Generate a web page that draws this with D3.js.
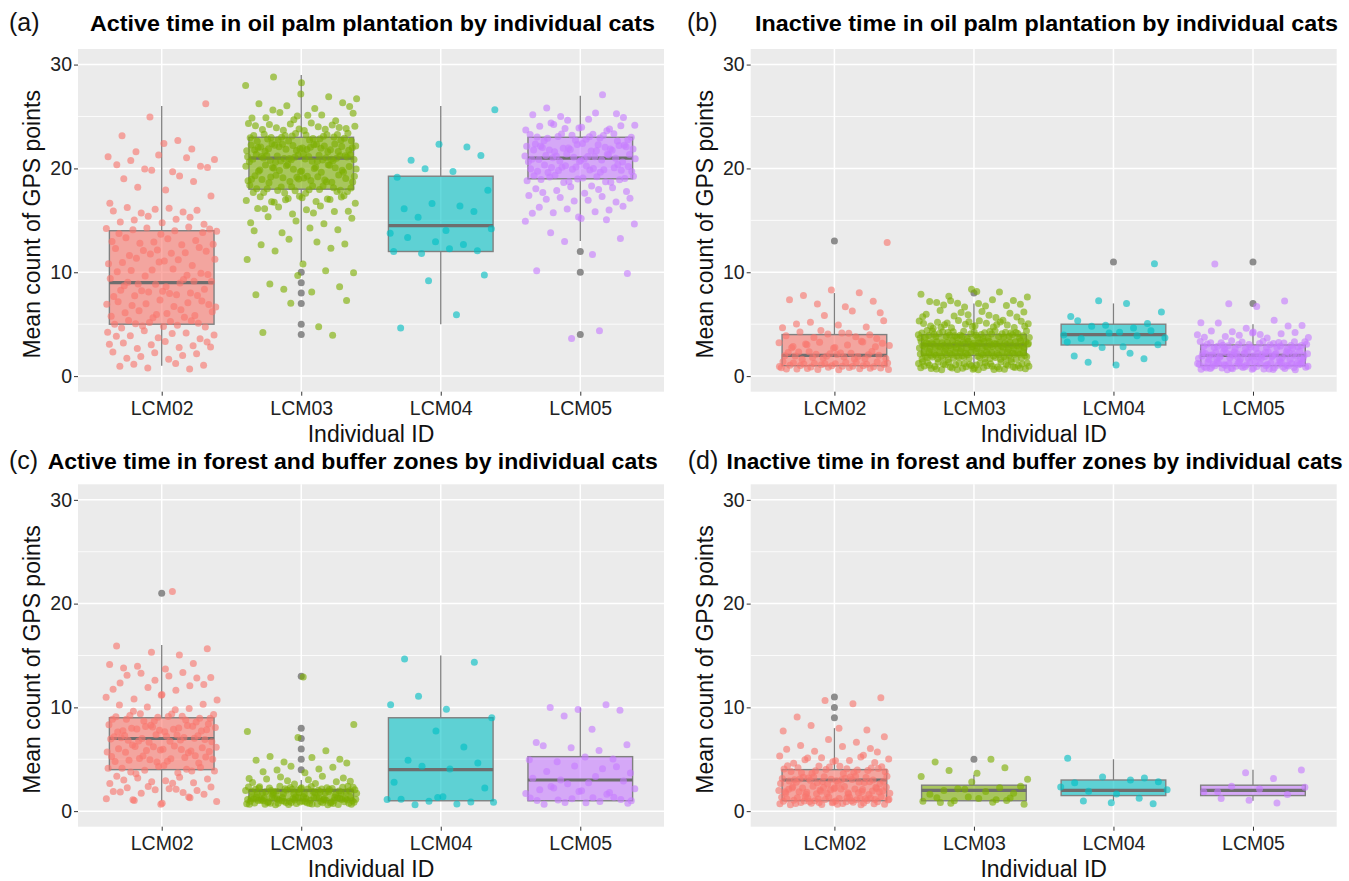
<!DOCTYPE html>
<html><head><meta charset="utf-8">
<script src="https://cdn.jsdelivr.net/npm/d3@7"></script>
<style>
body{margin:0;background:#fff}
text{font-family:"Liberation Sans",Arial,Helvetica,sans-serif}
</style>
</head><body>
<svg id="chart" width="1349" height="881"></svg>
<script>
// ---------- data ----------
const categories = ["LCM02", "LCM03", "LCM04", "LCM05"];
const colors = ["#F8766D", "#7CAE00", "#00BFC4", "#C77CFF"];
const yTicks = [0, 10, 20, 30];
const yMinor = [5, 15, 25];
const panelTags = ["(a)", "(b)", "(c)", "(d)"];
const panelTitles = [
  "Active time in oil palm plantation by individual cats",
  "Inactive time in oil palm plantation by individual cats",
  "Active time in forest and buffer zones by individual cats",
  "Inactive time in forest and buffer zones by individual cats"
];
const xTitle = "Individual ID";
const yTitle = "Mean count of GPS points";

// observations per category: [value, number of observations]
const countsA = [
  [[1,6],[2,7],[3,9],[4,9],[5,12],[6,10],[7,10],[8,11],[9,10],[10,8],[11,8],[12,9],[13,8],[14,10],[15,7],[16,7],[17,2],[18,2],[19,3],[20,6],[21,5],[22,3],[23,2],[25,1],[26,1]],
  [[4,2],[5,1],[7,2],[8,3],[9,2],[10,3],[11,2],[12,2],[13,4],[14,4],[15,5],[16,9],[17,14],[18,20],[19,22],[20,22],[21,32],[22,30],[23,24],[24,16],[25,9],[26,6],[27,3],[28,2],[29,1]],
  [[5,1],[6,1],[9,1],[10,1],[12,4],[13,3],[14,3],[15,1],[16,3],[17,1],[18,1],[19,1],[20,2],[21,2],[22,2],[26,1]],
  [[4,2],[10,2],[12,1],[13,2],[14,1],[15,5],[16,7],[17,8],[18,9],[19,15],[20,20],[21,22],[22,22],[23,17],[24,11],[25,7],[26,1],[27,1]]
];
const countsB = [
  [[1,34],[2,22],[3,14],[4,10],[5,6],[6,3],[7,4],[8,3],[13,1]],
  [[1,50],[2,60],[3,65],[4,45],[5,25],[6,12],[7,12],[8,6]],
  [[1,2],[2,3],[3,5],[4,7],[5,5],[6,2],[7,2],[11,1]],
  [[1,55],[2,50],[3,35],[4,13],[5,6],[7,3],[11,1]]
];
const countsC = [
  [[1,8],[2,12],[3,10],[4,12],[5,14],[6,16],[7,18],[8,18],[9,16],[10,6],[11,5],[12,6],[13,7],[14,5],[15,2],[16,2],[21,1]],
  [[1,72],[2,48],[3,12],[4,6],[5,6],[6,1],[7,1],[8,2],[13,1]],
  [[1,9],[2,1],[3,1],[4,2],[5,2],[6,1],[8,1],[9,1],[10,2],[11,1],[14,1],[15,1]],
  [[1,13],[2,9],[3,6],[4,5],[5,4],[6,4],[7,1],[8,1],[9,1],[10,4]]
];
const countsD = [
  [[1,45],[2,35],[3,30],[4,20],[5,12],[6,6],[7,3],[8,4],[9,1],[10,1],[11,2]],
  [[1,12],[2,8],[3,3],[4,3],[5,2]],
  [[1,4],[2,4],[3,5],[5,1]],
  [[1,3],[2,6],[3,1],[4,2]]
];

// box statistics per category: [lower whisker, Q1, median, Q3, upper whisker]
const boxA = [[1,5,9,14,26],[11,18,21,23,29],[5,12,14.5,19.25,26],[13,19,21,23,27]];
const boxB = [[1,1,2,4,8],[1,2,3,4,7],[1,3,4,5,7],[1,1,2,3,5]];
const boxC = [[1,4,7,9,16],[1,1,2,2,3],[1,1,4,9,15],[1,1,3,5.25,10]];
const boxD = [[1,1,3,4,8],[1,1,2,2.5,3.5],[1,1.5,2,3,5],[1,1.5,2,2.5,4]];
const outA = [[], [10,9,8,7,5,4], [], [12,10,4]];
const outB = [[13], [8], [11], [11,7]];
const outC = [[21], [13,8,7,6,5,4], [], []];
const outD = [[11,10,9], [5], [], []];

// ---------- layout ----------
const FONT = '"Liberation Sans",Arial,Helvetica,sans-serif';
const layout = [
  {left:78,    right:664,    top:49,    bottom:391.7, tagX:9,   titleX:90,    titleW:565, base:31},
  {left:750.7, right:1336.7, top:49,    bottom:391.7, tagX:687, titleX:755,   titleW:583, base:31},
  {left:78,    right:664,    top:484.3, bottom:826.7, tagX:9,   titleX:47.7,  titleW:610, base:469},
  {left:750.7, right:1336.7, top:484.3, bottom:826.7, tagX:687.8, titleX:726.6, titleW:616, base:469}
];
const allCounts = [countsA, countsB, countsC, countsD];
const allBoxes = [boxA, boxB, boxC, boxD];
const allOut = [outA, outB, outC, outD];

const svg = d3.select("#chart");
const R = 3.5;

// low-discrepancy (Halton) sequence used only to spread the jitter positions
function halton(i, b) {
  let f = 1, r = 0;
  while (i > 0) { f /= b; r += f * (i % b); i = Math.floor(i / b); }
  return r;
}

layout.forEach((L, p) => {
  const g = svg.append("g");
  const x = d3.scalePoint().domain(categories).range([L.left, L.right]).padding(0.6);
  const step = x.step();
  const y = d3.scaleLinear().domain([-1.5, 31.5]).range([L.bottom, L.top]);

  // panel background & grid
  g.append("rect").attr("x", L.left).attr("y", L.top)
    .attr("width", L.right - L.left).attr("height", L.bottom - L.top).attr("fill", "#EBEBEB");
  g.selectAll(".minor").data(yMinor).join("line")
    .attr("x1", L.left).attr("x2", L.right).attr("y1", d => y(d)).attr("y2", d => y(d))
    .attr("stroke", "#fff").attr("stroke-width", 0.8);
  g.selectAll(".major").data(yTicks).join("line")
    .attr("x1", L.left).attr("x2", L.right).attr("y1", d => y(d)).attr("y2", d => y(d))
    .attr("stroke", "#fff").attr("stroke-width", 1.5);
  g.selectAll(".vgrid").data(categories).join("line")
    .attr("x1", d => x(d)).attr("x2", d => x(d)).attr("y1", L.top).attr("y2", L.bottom)
    .attr("stroke", "#fff").attr("stroke-width", 1.5);

  // boxplots
  const bw = step * 0.75;
  categories.forEach((c, i) => {
    const [lo, q1, md, q3, hi] = allBoxes[p][i];
    const cx = x(c);
    g.append("line").attr("x1", cx).attr("x2", cx).attr("y1", y(q3)).attr("y2", y(hi))
      .attr("stroke", "#7f7f7f").attr("stroke-width", 1.3);
    g.append("line").attr("x1", cx).attr("x2", cx).attr("y1", y(q1)).attr("y2", y(lo))
      .attr("stroke", "#7f7f7f").attr("stroke-width", 1.3);
    g.append("rect").attr("x", cx - bw / 2).attr("y", y(q3))
      .attr("width", bw).attr("height", y(q1) - y(q3))
      .attr("fill", colors[i]).attr("fill-opacity", 0.6)
      .attr("stroke", "#808080").attr("stroke-width", 1.4);
    g.append("line").attr("x1", cx - bw / 2).attr("x2", cx + bw / 2)
      .attr("y1", y(md)).attr("y2", y(md))
      .attr("stroke", "#6e6e6e").attr("stroke-width", 3.2);
    g.selectAll(null).data(allOut[p][i]).join("circle")
      .attr("cx", cx).attr("cy", d => y(d)).attr("r", R)
      .attr("fill", "#7a7a7a").attr("fill-opacity", 0.85);
  });

  // jittered observations (ggplot-style jitter: +/-0.4 in x and y)
  categories.forEach((c, i) => {
    const pts = [];
    let k = 1 + p * 61 + i * 17;
    allCounts[p][i].forEach(([v, n]) => {
      for (let j = 0; j < n; j++) {
        k++;
        pts.push({ v: v, jx: (halton(k, 2) - 0.5) * 0.8, jy: (halton(k, 3) - 0.5) * 0.8 });
      }
    });
    g.selectAll(null).data(pts).join("circle")
      .attr("cx", d => x(c) + d.jx * step)
      .attr("cy", d => y(d.v + d.jy))
      .attr("r", R)
      .attr("fill", colors[i]).attr("fill-opacity", 0.62);
  });

  // axes
  const ya = g.append("g").attr("transform", `translate(${L.left},0)`)
    .call(d3.axisLeft(y).tickValues(yTicks).tickSize(4).tickPadding(2));
  ya.select(".domain").remove();
  ya.selectAll(".tick line").attr("stroke", "#333").attr("stroke-width", 1);
  ya.selectAll(".tick text").attr("font-size", 19.5).attr("fill", "#222").style("font-family", FONT);

  const xa = g.append("g").attr("transform", `translate(0,${L.bottom})`)
    .call(d3.axisBottom(x).tickSize(4).tickPadding(5));
  xa.select(".domain").remove();
  xa.selectAll(".tick line").attr("stroke", "#333").attr("stroke-width", 1);
  xa.selectAll(".tick text").attr("font-size", 19.5).attr("fill", "#222").style("font-family", FONT);

  // axis titles
  g.append("text").attr("x", (L.left + L.right) / 2).attr("y", L.bottom + 50)
    .attr("text-anchor", "middle").attr("font-size", 23).attr("fill", "#111").text(xTitle);
  g.append("text")
    .attr("transform", `translate(${L.left - 38},${(L.top + L.bottom) / 2 + 4}) rotate(-90)`)
    .attr("text-anchor", "middle").attr("font-size", 23).attr("fill", "#111").text(yTitle);

  // tag & title
  g.append("text").attr("x", L.tagX).attr("y", L.base)
    .attr("font-size", 25).attr("fill", "#111").text(panelTags[p]);
  g.append("text").attr("x", L.titleX).attr("y", L.base)
    .attr("font-size", 22.5).attr("font-weight", "bold").attr("fill", "#000")
    .attr("textLength", L.titleW).attr("lengthAdjust", "spacingAndGlyphs")
    .text(panelTitles[p]);
});
</script>
</body></html>
